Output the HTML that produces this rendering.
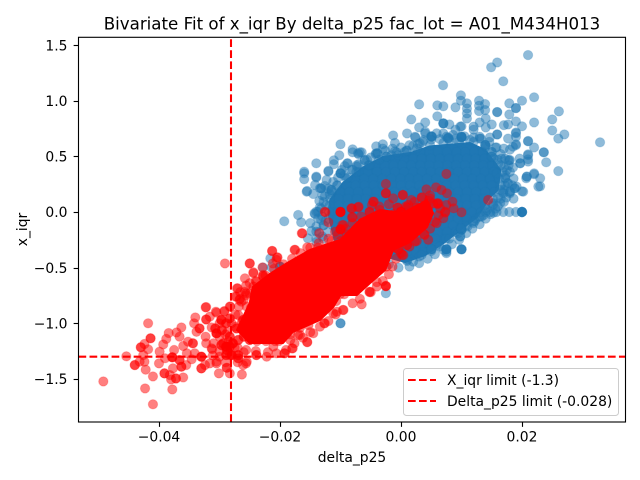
<!DOCTYPE html>
<html><head><meta charset="utf-8"><title>Bivariate Fit</title>
<style>
html,body{margin:0;padding:0;background:#fff;width:640px;height:480px;overflow:hidden}
svg{display:block}
text{font-family:"DejaVu Sans","Liberation Sans",sans-serif;fill:#000}
</style></head>
<body>
<svg id="chart" xmlns="http://www.w3.org/2000/svg" width="640" height="480" viewBox="0 0 640 480">
<rect x="0" y="0" width="640" height="480" fill="#fff"/>
<defs><clipPath id="plotClip"><rect x="78.5" y="37.3" width="547" height="384.7"/></clipPath></defs>
<g id="marks" clip-path="url(#plotClip)"></g>
<g id="limits" clip-path="url(#plotClip)"></g>
<g id="axes"></g>
<text x="352" y="29.5" font-size="16.67" text-anchor="middle">Bivariate Fit of x_iqr By delta_p25 fac_lot = A01_M434H013</text>
<text x="352" y="462" font-size="13.89" text-anchor="middle">delta_p25</text>
<text transform="translate(27,229.5) rotate(-90)" font-size="13.89" text-anchor="middle">x_iqr</text>
<g>
<rect x="403.5" y="368.5" width="215" height="47" rx="3" ry="3" fill="#fff" fill-opacity="0.8" stroke="#ccc" stroke-width="1"/>
<line x1="408" x2="436" y1="380" y2="380" stroke="#f00" stroke-width="2.08" stroke-dasharray="7.7 3.3"/>
<text x="447" y="385" font-size="13.89">X_iqr limit (-1.3)</text>
<line x1="408" x2="436" y1="401" y2="401" stroke="#f00" stroke-width="2.08" stroke-dasharray="7.7 3.3"/>
<text x="447" y="406" font-size="13.89">Delta_p25 limit (-0.028)</text>
</g>
</svg>
<script>
// delta_p25 values are in thousandths, x_iqr values are in hundredths.
const xTicks = [-40, -20, 0, 20];
const xTickLabels = ['\u22120.04', '\u22120.02', '0.00', '0.02'];
const yTicks = [150, 100, 50, 0, -50, -100, -150];
const yTickLabels = ['1.5', '1.0', '0.5', '0.0', '\u22120.5', '\u22121.0', '\u22121.5'];
const xIqrLimit = -130;
const deltaP25Limit = -28;

// Outline of the fully overplotted (saturated) region of each series: [delta_p25, x_iqr]
const blueSaturatedOutline = [
[-12,-1],[-11.7,10.8],[-9.6,26],[-6.3,40],[-3,49.4],[1.5,53],[4.8,59],[11.4,62],[13.9,55.7],[16.4,37.7],[16,19.8],[14.7,13.5],
[12.6,-4.5],[9.8,-16],[7,-28],[4,-38.6],[0.7,-45],[-3.5,-38.6],[-11,-25]
];
const redSaturatedOutline = [
[-24.5,-67.4],[-21.7,-55.7],[-18.8,-45.8],[-15,-34],[-10,-25],[-6.8,-7],[-3.5,1.8],[0.3,-1],[4.3,10.8],[5.3,-1],[4.3,-13.5],[1.5,-27],
[-1.3,-34],[-2.6,-52],[-5.1,-63.8],[-7.3,-74.6],[-10,-74.6],[-11.2,-85.4],[-13.4,-97],[-17.9,-107.8],[-19.5,-117.7],[-25,-117.7],[-27.1,-106],[-25,-81.8]
];

// Dense part of the passing lots: [x_iqr, delta_p25, delta_p25, ...]
const blueCoreRows = [
[54,3.2,4.7,6.1,7.6,9.2,10.6,12.1,13.5,15],
[48,-1,0.5,2,3.4,4.9,6.4,7.9,9.4,10.9,12.3,13.8,15.3,16.6],
[42,-4.2,-2.7,-1.2,0.2,1.7,3.2,4.7,6.2,7.7,9.1,10.6,12.1,13.6,15.1,16.5],
[36,-7,-5.5,-4,-2.5,-1,0.5,2,3.4,4.9,6.4,7.9,9.4,10.9,12.3,13.8,15.3,16.8],
[30,-9,-7.6,-6.1,-4.6,-3.1,-1.6,-0.1,1.4,2.8,4.3,5.8,7.3,8.8,10.3,11.8,13.2,14.7,16.2,17.2],
[24,-10.5,-9,-7.5,-6,-4.5,-3,-1.5,0,1.5,3,4.5,6,7.5,9,10.5,12,13.5,15,16.5,17.2],
[18,-11.5,-10,-8.6,-7.1,-5.6,-4.1,-2.6,-1.1,0.4,1.9,3.4,4.9,6.4,7.9,9.4,10.9,12.4,13.9,15.4,16.9],
[12,-11.7,-10.3,-8.8,-7.3,-5.8,-4.3,-2.8,-1.3,0.2,1.7,3.2,4.7,6.2,7.7,9.2,10.7,12.2,13.7,15.2,16.5],
[6,-11.8,-10.3,-8.8,-7.3,-5.8,-4.3,-2.8,-1.3,3.4,4.9,6.4,7.9,9.4,10.9,12.4,13.9,15.2],
[0,-11.9,-10.4,-8.9,-7.4,-5.9,-4.4,-3,4.2,5.7,7.2,8.7,10.2,11.7,13.2,14],
[-6,-12,-10.5,-9,-7.5,-6,-4.6,3.4,4.9,6.4,7.9,9.4,10.9,12.4],
[-12,-12.8,-11.3,-9.8,-8.3,-7,2.6,4.1,5.6,7.1,8.6,10.1,10.8],
[-18,-13.6,-12.1,-10.6,1.6,3.1,4.6,6.1,7.6,9],
[-24,-14,-12.8,1.2,2.7,4.2,5.7,7.4],
[-30,0.3,1.8,3.3,4.8,5.8],
[-36,1,2.5,3.6]
];

// Points crowding the edge of the passing-lot mass: [delta_p25, x_iqr]
const blueEdgePoints = [
[-13,-4],[-13.2,3],[-12.8,9],[-12.6,14],[-12,21],[-11.2,27],[-10.4,31],[-9.4,33],[-8.2,38],[-7,43],[-5.6,47],[-4.2,52],[-2.6,55],[-1.4,57],[0,58],[1.4,60],[2.8,61],[3.6,63],[5,65],[6.4,65.5],
[7.8,67],[9,66],[10.5,68],[12,67],[13.2,66],[14.6,63],[15.6,58],[16.5,52],[17.2,48],[17.8,42],[18,36],[18.6,30],[18.4,24],[18,18],[17.4,13],[16.4,8],[15.6,3],[14.8,-2],[14,-6],[13,-11],
[11.8,-15],[10.8,-19],[9.6,-25],[8.4,-29],[7,-34],[5.6,-38],[4.4,-42],[3,-46],[1.4,-49],[-0.4,-50],[-2,-47],[-3.5,-44],[-5,-43],
[-12.5,-8],[-12.4,6],[-11.8,16],[-10.6,24],[-8.8,31],[-7.4,36],[-5.4,42],[-3.6,47],[-1.6,51],[0.6,54],[2.6,57],[4.8,60],[7,62],[9.6,63],[12,63],[14,60],[15,54],[16,47],[17,40],[17.3,33],
[17.6,26],[17,20],[16,13],[15,8],[14,3],[13.6,-3],[12.2,-8],[11,-13],[9.4,-19],[8,-24],[6.4,-31],[5,-35],[3,-40],[1,-44]
];

// Individually visible passing lots: [delta_p25, x_iqr]
const bluePoints = [
[21,141],[15.9,134.4],[14.9,130],[16.9,117.4],[6.95,113.8],[9.9,104.8],[9.9,100],[12.9,100],[13.9,97],[12.9,95.5],[13.9,91.6],[12.9,90.7],
[10.9,97.6],[10.9,93],[10.9,88.6],[10.9,84],[3,96.7],[6,95.8],[7,95],[9,94],[15.9,89.8],[15.9,89.8],[17.9,97.6],[20,100],[22,103],[19,93.4],[19,93.4],
[17.9,87.7],[26.1,90.4],[25,83.2],[22,80.5],[19,81.4],[1.7,83.2],[6,86],[4,80.5],[3,76],[7,79.6],[7,79.6],[8,78.7],[10,77],[9,74],[12,74],[13,80.5],
[14,84],[15,78.7],[14,76],[17,78],[17.7,78.7],[20,77],[19,71.5],[25,73.3],[27,69.7],[26,66],[15.9,69.7],[15.9,69.7],[17.7,66],[19,67.6],[21,63.5],
[22,58],[19,60.8],[18.5,58.7],[-1.3,68.8],[1,70.6],[4,70.6],[2.4,67],[5,68],[5,68],[3.75,64.6],[7.5,67.6],[8,64.6],[7,70.6],[10,67],[10,67],[13,66],
[14.7,67],[14,58.7],[15.8,58],[17,57],[18,56],[23.6,53.6],[21,51.8],[21,47.3],[24,44.6],[17.9,46.4],[19.7,43.7],[32.9,62.6],[-10,60.8],[-10.2,50.9],
[-8,56.3],[-8,53.6],[-6.5,53.6],[-7,51.8],[-6,46.4],[-4.1,59],[-3,60.8],[-3,57],[-4.1,52.7],[-1,54.5],[-0.5,51],[1,55.4],[2,59.3],[-11.1,46.4],[-11.1,43],
[-14,43.7],[-8.9,43.7],[-9.3,41.3],[-7.3,42],[-5.2,42.2],[26,36.8],[-12,37],[-16,36.2],
[-16,34.8],[-16,29.4],[-14,31],[-12,36.3],[-8.8,43.7],[-7.1,52.7],[-14.2,24.3],[-12.6,23.4],[-13.2,21.3],[-13.2,21.3],[-15.6,18.3],[-14.5,16.2],[-11.5,19.8],
[-14,0.3],[-13.4,4.2],[-14.3,-1.2],[-13.7,-5.7],[-17,-2.7],[-16.5,-9.3],[-19.3,-8.4],[-13.2,-7.2],[-14.8,-17],[-14,-17.6],[-15.4,-23.6],
[21,63.8],[23.6,53.6],[21,51],[21,45.3],[19,70.7],[19,60],[17.7,46.7],[19.6,48],[22,33.9],[23,30.3],[23,23.1],[20.7,30.3],[20,18.6],[18.8,21.3],[18.8,21.3],[18,16.8],
[20,0],[20,0],[20,0],[20,0],[20,0],[20,0],[19,0],[17.9,0],[16.9,0],[15.8,0],[14.7,0],[13,-4.2],[11.9,-8.7],[10,-16],[10,-16],[10,-16],[9.8,-22],
[10,-33.5],[10,-33.5],[10,-33.5],[10,-33.5],[7.5,-33.5],[7.5,-33.5],[7.5,-33.5],[7.5,-33.5],[7.5,-37],[5,-33.5],[5,-33.5],[5,-33.5],[2,-44.6],[1,-43],[3.4,-38.6],
[-2.5,-73],[-10,-100],[-10,-100],[-21.6,-41.7],[-21.4,-49.8],[-20,-49],[-20,-49],[-20,-49],[-22.8,-49.8],
[-6.8,53.6],[-7.3,40.8],[-6,46.7],[-3.9,52.7],[-3.9,52.7],[-2.4,49.8],[-2.4,49.8],[-0.7,53.6],[0.9,55],[-10,34.8],[-10,34.8],[-10,34.8],[-9.8,37.8],[-14,31.8],[-13.4,21.3],
[-15.5,18.9],[-12.3,28.8],[-11.5,19.8],[-13.7,0.3],[-14.2,-2],
[18,46.8],[19.7,43.8],[20.8,31.8],[20.8,31.8],[22,34.8],[22.7,22.8],[20.2,18.3],[17.7,25.8],[16.4,19.8],[19.1,22.8],[18,18.3],[16.9,16.8],[15.8,34.8],[15,49.8],[15,49.8],
[13.9,60.2],[13.9,60.2],[10,67.7],[10,67.7],[10,67.7],[5.1,67.7],[5.1,67.7],[7.8,66.2],[7.8,66.2],[13,67.7],[16.1,43.8],[17.5,37.8],[15.3,7.8],[14.2,1.8],[15.3,-0.6],[13.3,-4.2],
[12,-10],[9.8,-22],[9.9,-14.6],[9.9,-14.6],[7.5,-35.6],[2.3,67.7],[4,72],[7,79.7],[9.8,76.7],[12,76.7],[5.9,70.7],[8.6,69.2],[11.4,64.7],[3.1,61.7],[-1,62],[-5,49],[-8,38],
[18.5,40],[17.2,31],[18.6,12],[17,9],[16,5],[-13.5,10],[-13,15],[-12.8,-12],[-14,-13],[-15,-10],[-14,-27],[-13,-22]
];

// Points crowding the edge of the flagged-lot mass: [delta_p25, x_iqr]
const redEdgePoints = [
[-26.6,-72],[-25.6,-66],[-24,-62],[-22.4,-57],[-21,-51],[-19.4,-47],[-18,-42],[-16.6,-37],[-15,-32],[-13.6,-28],[-12,-24],[-10.4,-20],[-9.2,-15],[-8,-10],[-6.6,-4],[-5.2,0],[-3.6,5],[-2,7],[-0.6,4],[0.8,5],
[2.2,9],[3.4,13],[4.8,15],[6,8],[6.5,3],[6.2,-3],[5.6,-9],[4.8,-15],[3.8,-20],[2.6,-26],[1.4,-31],[0,-37],[-0.8,-42],[-1.4,-49],[-2,-56],[-3,-62],[-4,-67],[-5,-72],[-6.8,-78],[-8,-82],
[-9.6,-88],[-10.8,-92],[-12,-98],[-13.4,-103],[-15,-108],[-16.2,-113],[-17.6,-118],[-19,-124],[-20.6,-127],[-22,-126],[-24,-125],[-26,-126],[-27.5,-122],[-28.5,-116],[-28.7,-108],[-28,-100],[-27.4,-92],[-26.8,-85],[-26.6,-78],
[-30,-112],[-30,-125],[-31,-118],[-30,-130],[-29,-135],[-27,-135],[-27,-122],[-29,-110],[-30,-100]
];

// Individually visible flagged lots: [delta_p25, x_iqr]
const redPoints = [
[7.5,34.2],[14.4,10.8],[-2.5,25.2],[-2.5,16.8],[-2.5,16.8],[-4.6,9.3],[4.2,20.4],[5.8,22.2],[6.7,19.8],[7.6,16.8],[0.3,15.3],[0.3,15.3],[-1.3,12.3],[1.7,10.8],[3.5,13.2],
[4.6,10.2],[6,7.2],[8.5,9.3],[7.5,6.3],[8.7,3.3],[10,-0.3],[7.3,-0.6],[7,-5.7],[-12.5,-0.3],[-10,0],[-10,0],[-10,0],[-10,0],[-8.1,3.3],[-7.1,4.2],[-8.1,-4.8],[-12,-9.3],
[-10,-15.5],[-10,-15.5],[-10,-15.5],[-13.5,-19.1],[-16.4,-19.1],[0,0],[0,0],[0,0],[0,0],[-17.6,-34],[-15.5,-31.7],[-20.5,-40.7],[-21.3,-35],[-9.7,-11.7],[-5.2,0],[-3.5,1.8],
[-2.5,-66.5],[-2.5,-66.5],[-2.5,-66.5],[-2.4,-49],[-4,-63],[-5.2,-72],[0.2,-38.6],[1,-29.6],[4.5,-25],[2.3,-26.6],[3.9,-20.6],[-0.5,-33.5],
[-29.1,-46.2],[-25,-46.2],[-20.4,-40.8],[-21.2,-46.2],[-16.3,-19.2],[-25.8,-59.6],[-24.4,-55],[-22.8,-57.5],[-27.1,-68.6],[-32.2,-85.4],[-30.5,-90.5],[-29.2,-89],[-28.2,-85],
[-27.2,-76],[-26.4,-80.6],[-25.6,-74.6],[-15.5,-116.8],[-14.5,-109],[-12.7,-100],[-9.5,-88],[-6.5,-83],[-5.2,-71.6],[-19.3,-127],[-18,-122.6],[-16.7,-110.5],
[-49.2,-152.2],[-41,-172.8],[-42.3,-158.5],[-37.8,-159.4],[-41.8,-100],[-41.4,-113.5],[-41.4,-113.5],[-43,-121.6],[-43,-121.6],[-41.8,-123.4],[-42.4,-118.6],[-45.4,-129.7],
[-44,-137.5],[-44,-137.5],[-43.2,-134.5],[-42.6,-128.5],[-42.2,-141.7],[-42.4,-134.5],[-41,-147.7],[-40,-136],[-39.9,-125.5],[-39.3,-119],[-38.8,-114],[-38.4,-108.8],[-37.1,-108.2],
[-36.3,-103.7],[-36.6,-112],[-37.5,-124],[-37.8,-130.6],[-37.8,-130.6],[-37.8,-130.6],[-39,-131.5],[-36.6,-133],[-36.6,-133],[-35.4,-127],[-35.5,-137.5],[-36.3,-139],[-36.3,-139],
[-37.7,-140.5],[-39.1,-145],[-39.1,-145],[-38.2,-146.5],[-37.2,-149.5],[-37.2,-149.5],[-36,-148.6],[-38,-150.4],[-36,-120.4],[-35.2,-116.5],[-34.4,-118],[-34.4,-118],[-33.3,-104.6],[-33.3,-104.6],
[-34,-94.7],[-34.2,-100],[-33.8,-107.6],[-32.3,-85.7],[-32.2,-96.5],[-32.2,-96.5],[-31.6,-94],[-30.6,-89.6],[-29.2,-89.3],[-28.3,-85],[-32.3,-112],[-31.3,-103.7],[-32.2,-118],
[-29.7,-97],[-29.7,-97],[-29.7,-97],[-30.5,-109],[-30.5,-109],[-30.5,-109],[-28.9,-100],[-28.9,-100],[-34.1,-127],[-34.6,-132.4],[-33,-130],[-33,-130],[-33,-130],[-33,-140.5],[-33,-140.5],
[-32.4,-137.5],[-31.2,-123.4],[-31.1,-129],[-31.6,-136],[-30.5,-136],[-30.1,-145],[-28.8,-140],[-28.8,-140],[-28.3,-145],[-26.3,-146],[-25.6,-136],[-26.1,-137.5],
[-28.9,-121],[-28.9,-121],[-28.9,-121],[-28.9,-121],[-27.8,-118],[-27.8,-118],[-27.8,-118],[-29.7,-119.5],[-29.7,-119.5],[-28,-128.5],[-28,-128.5],[-28,-128.5],[-26.9,-131.5],[-26.9,-131.5],
[-28.9,-128.5],[-28.9,-128.5],[-25.6,-124],[-23.9,-128.5],[-22.2,-130],[-27.2,-104.6],[-27.2,-104.6],[-26.1,-97],[-26.1,-97],[-26.7,-79],[-25.6,-73],[-25,-64],[-25,-46.2],[-24.4,-54.2],
[-22.9,-49.8],[-21.3,-35],[-20.6,-43],[-22.8,-58],
[-22.8,-56.6],[-23.9,-62.6],[-27,-68.6],[-24.4,-67],[-25,-73],[-25.8,-71.6],[-26,-79],[-27.4,-76],[-25.5,-85],[-26.9,-92.6],[-26.3,-98.6],[-27.4,-103],[-28.3,-95.6],[-28.3,-95.6],
[-30.7,-104.6],[-30.7,-104.6],[-29.6,-106],[-29.6,-106],[-28.3,-112],[-28.3,-112],[-29.4,-118],[-29.4,-118],[-28.3,-121],[-28.3,-121],[-26.9,-115],[-26.9,-115],[-26,-112],[-26,-112],[-25,-115],[-25,-115],
[-26.9,-128.5],[-26.9,-128.5],[-28.3,-128.5],[-28.8,-124],[-28.8,-124],[-25.5,-134.5],[-30.5,-134.5],[-31.3,-122.5],[-23.9,-128.5],[-19.2,-127],[-17.9,-122.5],[-21.1,-121],[-18.3,-115],[-17,-110.5],
[-15.5,-117],[-12.6,-100],[-15.3,-101.6],[-17,-98.6],[-11.2,-91],[-10.6,-89.6],[-17.5,-34],[-4.5,9.3],[-4.8,6.3],[-7,4.8],[-8.2,3.3],[-12.6,0.3],[-8,-4.8],[-10.9,-17.7],[-9.5,-11.7],[1.2,6.2],[4.8,12.2],
[5.3,7.7],[6.2,7.7],[7.3,0.3],[5.9,-10],[1,-29.7],[0.4,-38.7],[-0.4,-33.6],[-6.2,-64]
];

// Dense part of the flagged lots: [x_iqr, delta_p25, delta_p25, ...]
const redCoreRows = [
[4,-0.5,1,2.5,3.9,4.5],
[-2,-2.8,-1.3,0.2,1.7,3.2,4.2],
[-8,-4.5,-3,-1.5,0,1.5,3,3.8],
[-14,-6,-4.5,-3.1,-1.6,-0.1,1.4,2.5],
[-20,-9,-7.5,-6,-4.5,-3,-1.5,0,1.5],
[-26,-11.5,-10,-8.5,-7,-5.5,-4.1,-2.6,-1.1,0.3],
[-32,-13.7,-12.2,-10.7,-9.2,-7.7,-6.2,-4.7,-3.2,-1.8,-1],
[-38,-15.2,-13.7,-12.2,-10.7,-9.2,-7.7,-6.2,-4.7,-3.2,-2.3],
[-44,-17,-15.5,-14,-12.5,-11,-9.5,-8,-6.5,-5,-3.5],
[-50,-18.7,-17.2,-15.7,-14.2,-12.7,-11.2,-9.7,-8.2,-6.7,-5.2,-4.5],
[-56,-20,-18.5,-17,-15.5,-14,-12.5,-11,-9.5,-8,-6.5,-5.8],
[-62,-21.3,-19.8,-18.3,-16.8,-15.3,-13.8,-12.3,-10.8,-9.3,-7.8,-7],
[-68,-22.8,-21.3,-19.8,-18.3,-16.8,-15.3,-13.8,-12.3,-10.8,-9.3,-8.2],
[-74,-23.6,-22.1,-20.6,-19.1,-17.6,-16.1,-14.6,-13.1,-11.6,-10.1,-9.4],
[-80,-24.3,-22.8,-21.3,-19.8,-18.3,-16.8,-15.3,-13.8,-12.3,-10.7],
[-86,-24.8,-23.3,-21.8,-20.3,-18.8,-17.3,-15.8,-14.3,-12.8,-12.3],
[-92,-25.1,-23.6,-22.1,-20.6,-19.1,-17.6,-16.1,-14.6,-14.1],
[-98,-25.3,-23.8,-22.3,-20.8,-19.3,-17.8,-16.3,-15.5],
[-104,-25.3,-23.8,-22.3,-20.8,-19.3,-17.8,-16.7],
[-110,-25,-23.5,-22,-20.5,-19,-18.3],
[-116,-23.8,-22.3,-20.8,-20.2]
];

const NS = 'http://www.w3.org/2000/svg';
const plotLeft = 78.5, plotRight = 625.5, plotTop = 37.3, plotBottom = 422;
function xScale(v) { return 401 + 6.05 * v; }
function yScale(v) { return 212 - 1.113 * v; }
const marks = document.getElementById('marks');
const limits = document.getElementById('limits');
const axes = document.getElementById('axes');

function svgEl(tag, attrs, parent) {
  const el = document.createElementNS(NS, tag);
  for (const k in attrs) el.setAttribute(k, attrs[k]);
  parent.appendChild(el);
  return el;
}
function drawPoint(dx, dy, color, group, name) {
  const c = svgEl('circle', {cx: xScale(dx), cy: yScale(dy), r: 4.7, fill: color, stroke: color, 'stroke-width': 1,
    'fill-opacity': 0.5, 'stroke-opacity': 0.2}, group);
  
  
}
function drawRows(rows, color, group, name) {
  rows.forEach(function (row) {
    row.slice(1).forEach(function (dx) { drawPoint(dx, row[0], color, group, name); });
  });
}
function drawPoints(points, color, group, name) {
  points.forEach(function (p) { drawPoint(p[0], p[1], color, group, name); });
}
function drawOutline(outline, color, group, name) {
  const pts = outline.map(function (p) { return xScale(p[0]) + ',' + yScale(p[1]); }).join(' ');
  const poly = svgEl('polygon', {points: pts, fill: color, stroke: color, 'stroke-width': 2, 'stroke-linejoin': 'round'}, group);
  
  
}

const blueGroup = svgEl('g', {}, marks);


const redGroup = svgEl('g', {}, marks);


drawOutline(blueSaturatedOutline, '#1f77b4', blueGroup, 'passing-lots-saturated-region');
drawRows(blueCoreRows, '#1f77b4', blueGroup, 'passing-lot-point');
drawPoints(blueEdgePoints, '#1f77b4', blueGroup, 'passing-lot-point');
drawPoints(bluePoints, '#1f77b4', blueGroup, 'passing-lot-point');
drawOutline(redSaturatedOutline, '#ff0000', redGroup, 'flagged-lots-saturated-region');
drawRows(redCoreRows, '#ff0000', redGroup, 'flagged-lot-point');
drawPoints(redEdgePoints, '#ff0000', redGroup, 'flagged-lot-point');
drawPoints(redPoints, '#ff0000', redGroup, 'flagged-lot-point');

const hLimit = svgEl('line', {x1: plotLeft, x2: plotRight, y1: yScale(xIqrLimit), y2: yScale(xIqrLimit), stroke: '#f00', 'stroke-width': 2.08, 'stroke-dasharray': '7.7 3.33'}, limits);


const vLimitX = Math.round(xScale(deltaP25Limit) - 0.5);
const vLimit = svgEl('line', {x1: vLimitX, x2: vLimitX, y1: plotBottom, y2: plotTop, stroke: '#f00', 'stroke-width': 2.08, 'stroke-dasharray': '7.7 3.33'}, limits);



const frame = svgEl('rect', {x: plotLeft, y: plotTop, width: plotRight - plotLeft, height: plotBottom - plotTop, fill: 'none', stroke: '#000', 'stroke-width': 1.11}, axes);



xTicks.forEach(function (t, i) {
  const px = Math.round(xScale(t)) + 0.5;
  const tick = svgEl('line', {x1: px, x2: px, y1: plotBottom, y2: plotBottom + 4.86, stroke: '#000', 'stroke-width': 1.11}, axes);
  
  
  const label = svgEl('text', {x: xScale(t), y: 441.5, 'font-size': 13.89, 'text-anchor': 'middle'}, axes);
  label.textContent = xTickLabels[i];
  
  
});
yTicks.forEach(function (t, i) {
  const py = Math.round(yScale(t)) + 0.5;
  const tick = svgEl('line', {x1: plotLeft - 4.86, x2: plotLeft, y1: py, y2: py, stroke: '#000', 'stroke-width': 1.11}, axes);
  
  
  const label = svgEl('text', {x: 67.5, y: yScale(t) + 5.2, 'font-size': 13.89, 'text-anchor': 'end'}, axes);
  label.textContent = yTickLabels[i];
  
  
});
</script>
</body></html>
